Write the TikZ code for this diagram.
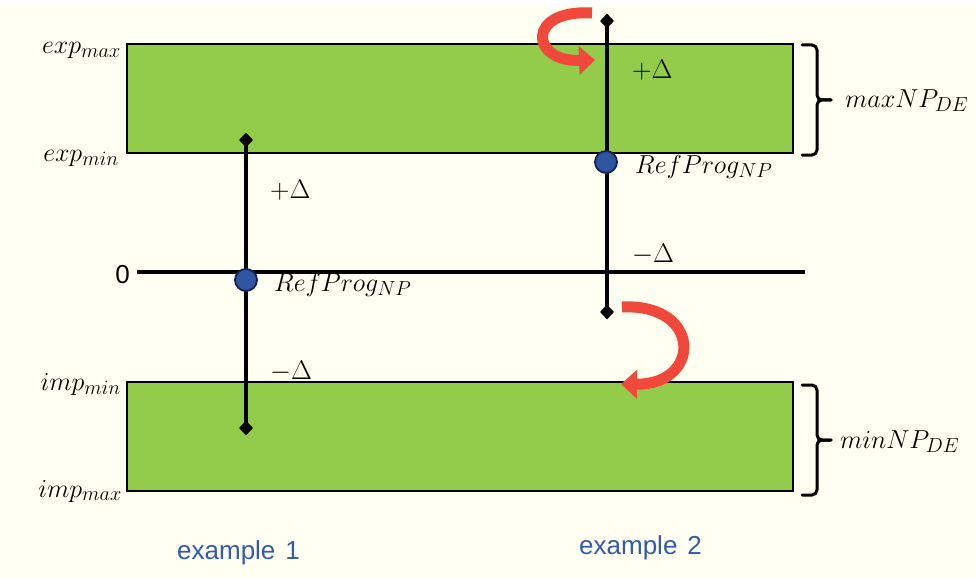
\RequirePackage{fix-cm}
\documentclass[tikz,border=0pt]{standalone}
\usepackage{fontspec}
\newfontfamily\sansf{Liberation Sans}
\renewcommand\defaultscriptratio{.78}
\usetikzlibrary{shapes.geometric,arrows.meta}
\definecolor{bgivory}{RGB}{255,255,242}
\definecolor{boxgreen}{RGB}{146,204,74}
\definecolor{dotblue}{RGB}{47,84,160}
\definecolor{dotedge}{RGB}{20,35,80}
\definecolor{txtblue}{RGB}{52,90,170}
\definecolor{arrred}{RGB}{240,72,58}
\begin{document}
\begin{tikzpicture}[x=1pt,y=-1pt,
  greenbox/.style={draw=black,line width=2.4pt,fill=boxgreen,inner sep=0pt,minimum width=666pt,minimum height=109pt},
  axisline/.style={draw=black,line width=3.2pt},
  tipmark/.style={diamond,fill=black,inner sep=0pt,minimum width=14pt,minimum height=15pt},
  refdot/.style={circle,fill=dotblue,draw=dotedge,line width=1.8pt,inner sep=0pt,minimum size=22pt},
  deltalbl/.style={inner sep=0pt,font=\fontsize{27}{31}\selectfont},
  mathlbl/.style={inner sep=0pt,font=\fontsize{26}{30}\selectfont},
  sanslbl/.style={inner sep=0pt,font=\sansf\fontsize{26}{30}\selectfont},
  exlbl/.style={sanslbl,text=txtblue},
  bracest/.style={draw=black,line width=3pt,line cap=round,line join=round,rounded corners=5pt},
  redarr/.style={draw=arrred,line width=11pt,-{Triangle[width=28pt,length=16pt]}}]
\useasboundingbox (0,0) rectangle (978,578);
\fill[white] (0,0) rectangle (978,578);
\fill[bgivory] (0,5) rectangle (975,578);
% boxes
\node[greenbox] (upper) at (460,98.5) {};
\node[greenbox] (lower) at (460,436.5) {};
% axis
\coordinate (z0) at (137,272);
\coordinate (z1) at (805,272);
\draw[axisline] (z0) -- (z1);
\node[sanslbl,anchor=base east] (zero) at (130,283) {0};
% example 1
\coordinate (a1) at (246,140);
\coordinate (b1) at (246,428);
\draw[axisline] (a1) -- (b1);
\node[tipmark] (d1t) at (a1) {};
\node[tipmark] (d1b) at (b1) {};
\node[refdot] (r1) at (246,280) {};
% example 2
\coordinate (a2) at (607,21);
\coordinate (b2) at (607,312);
\draw[axisline] (a2) -- (b2);
\node[tipmark] (d2t) at (a2) {};
\node[tipmark] (d2b) at (b2) {};
\node[refdot] (r2) at (606,162) {};
% delta labels
\node[deltalbl,anchor=base west] (p1) at (270,198) {$+\Delta$};
\node[deltalbl,anchor=base west] (m1) at (270,379) {$-\Delta$};
\node[deltalbl,anchor=base west] (p2) at (632,79) {$+\Delta$};
\node[deltalbl,anchor=base west] (m2) at (632,262) {$-\Delta$};
\node[mathlbl,anchor=base west] (rp1) at (274,291) {$RefProg_{NP}$};
\node[mathlbl,anchor=base west] (rp2) at (635,173) {$RefProg_{NP}$};
% left labels
\node[mathlbl,anchor=base east] (emax) at (121,54) {$exp_{max}$};
\node[mathlbl,anchor=base east] (emin) at (119,161) {$exp_{min}$};
\node[mathlbl,anchor=base east] (imin) at (121,390) {$imp_{min}$};
\node[mathlbl,anchor=base east] (imax) at (122,497) {$imp_{max}$};
% braces
\draw[bracest] (802,45) -- (817,45) -- (817,100) -- (831,100);
\draw[bracest] (802,155) -- (817,155) -- (817,100) -- (831,100);
\draw[bracest] (802,385) -- (817,385) -- (817,440) -- (831,440);
\draw[bracest] (802,495) -- (817,495) -- (817,440) -- (831,440);
\node[mathlbl,anchor=base west] (maxnp) at (845,107) {$maxNP_{DE}$};
\node[mathlbl,anchor=base west] (minnp) at (840,448) {$minNP_{DE}$};
% red arrows
\draw[redarr] (592,13) .. controls (526,9) and (530,62) .. (595,60);
\draw[redarr] (622,307) .. controls (702,303) and (702,385) .. (621,384);
% example labels
\node[exlbl,anchor=base west] (ex1) at (177,559) {example\hspace{10pt}1};
\node[exlbl,anchor=base west] (ex2) at (579,554) {example\hspace{10pt}2};
\end{tikzpicture}
\end{document}
